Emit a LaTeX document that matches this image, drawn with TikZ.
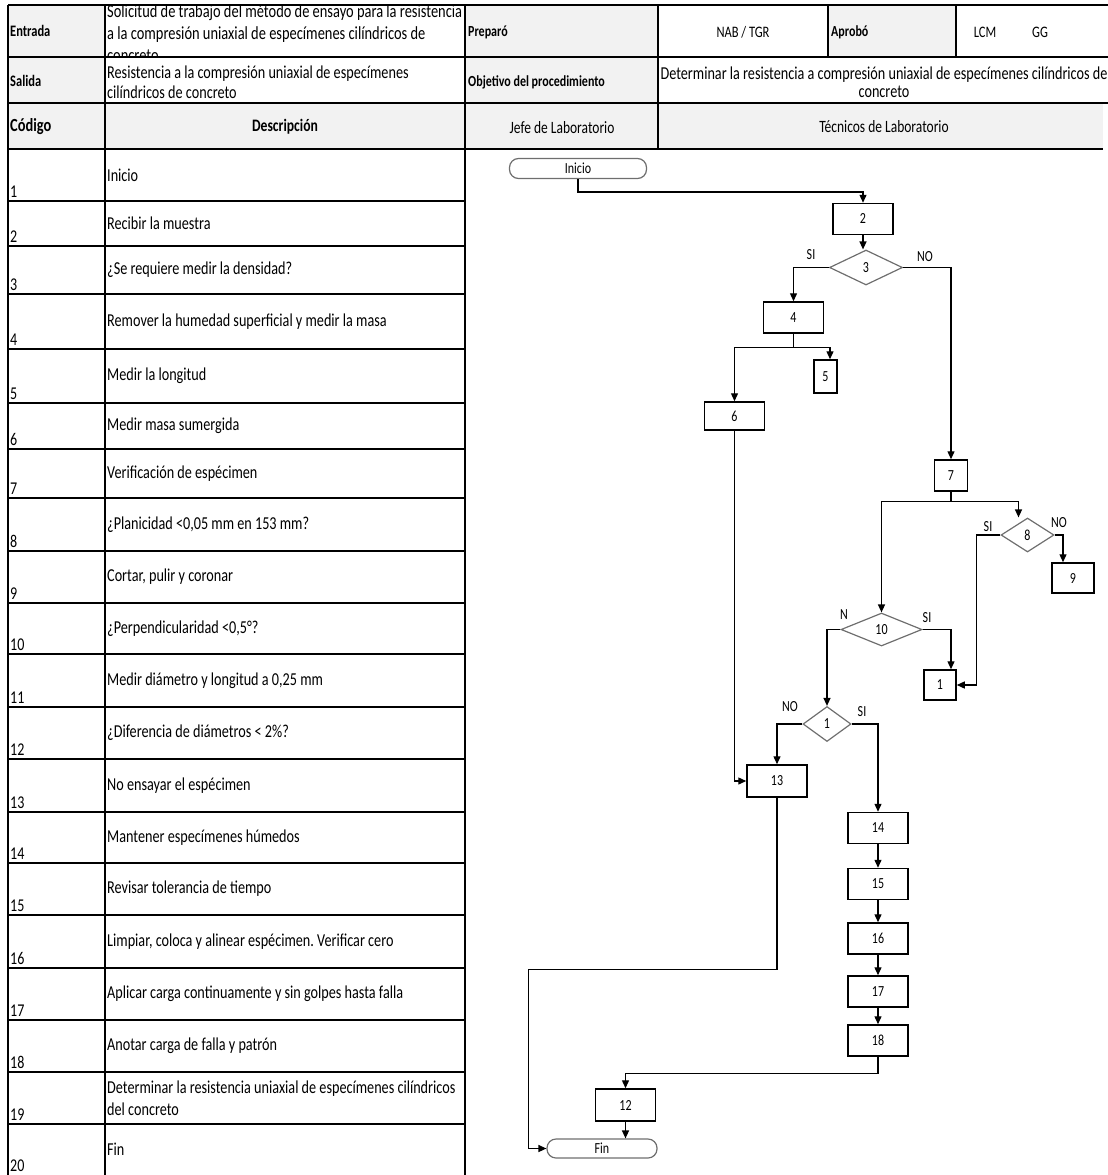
\documentclass[tikz,border=0pt]{standalone}
\usepackage{fontspec}
\setmainfont{Carlito}[FakeStretch=0.78]
\usetikzlibrary{arrows.meta, shapes.geometric}

\definecolor{grisceld}{HTML}{F2F2F2}
\definecolor{grislinea}{HTML}{6E6E6E}

\begin{document}
\frenchspacing
\begin{tikzpicture}[x=1pt, y=-1pt,
    caja/.style={draw, line width=1.5pt, minimum width=60pt, minimum height=31pt, inner sep=1pt, font=\fontsize{15.4}{17}\selectfont},
    rombo/.style={diamond, draw=grislinea, line width=1.2pt, inner sep=0pt, font=\fontsize{15.4}{17}\selectfont},
    terminal/.style={draw=grislinea, line width=1.2pt, rounded corners=9pt, minimum height=20pt, inner sep=0pt, font=\fontsize{15.4}{17}\selectfont},
    etiqueta/.style={inner sep=0pt, font=\fontsize{15.4}{17}\selectfont},
    flecha/.style={-{Triangle[length=8pt, width=7pt]}, line width=1.3pt},
    tabla/.style={line width=2pt},
    desc/.style={inner sep=0pt, align=left, font=\fontsize{18.2}{22}\selectfont},
    titulo/.style={inner sep=0pt, font=\bfseries\fontsize{16}{18}\selectfont},
    codigo/.style={inner sep=0pt, font=\fontsize{18}{20}\selectfont}]
    \useasboundingbox (0,0) rectangle (1108,1175);

    % celdas grises del encabezado
    \fill[grisceld] (8,5) rectangle (105,149);
    \fill[grisceld] (105,103) rectangle (465,149);
    \fill[grisceld] (465,5) rectangle (658,149);
    \fill[grisceld] (828,5) rectangle (956,57);
    \fill[grisceld] (658,103) rectangle (1103,149);

    % lineas del encabezado
    \draw[tabla] (8,5) -- (1108,5);
    \draw[tabla] (8,57) -- (1108,57);
    \draw[tabla] (8,103) -- (1108,103);
    \draw[tabla] (8,149) -- (1103,149);
    \foreach \x in {8,105,465}
        \draw[tabla] (\x,5) -- (\x,1175);
    \draw[tabla] (658,5) -- (658,149);
    \foreach \x in {828,956}
        \draw[tabla] (\x,5) -- (\x,57);

    % textos del encabezado
    \node[titulo, anchor=west] (ent) at (10,31) {Entrada};
    \node[titulo, anchor=west] (sal) at (10,81) {Salida};
    \node[titulo, anchor=west, font=\bfseries\fontsize{18.5}{20}\selectfont] (cod) at (10,127) {Código};
    \node[titulo, font=\bfseries\fontsize{17.5}{20}\selectfont] (des) at (285,127) {Descripción};
    \begin{scope}
        \clip (105,5) rectangle (465,57);
        \node[desc, anchor=north west, font=\fontsize{18.5}{22}\selectfont] (sol) at (107,4) {Solicitud de trabajo del método de ensayo para la resistencia\\a la compresión uniaxial de especímenes cilíndricos de\\concreto};
    \end{scope}
    \node[desc, anchor=west, font=\fontsize{18.2}{20}\selectfont] (res) at (107,82) {Resistencia a la compresión uniaxial de especímenes\\cilíndricos de concreto};
    \node[titulo, anchor=west, font=\bfseries\fontsize{15.4}{17}\selectfont] (prep) at (468,32) {Preparó};
    \node[codigo, font=\fontsize{16}{18}\selectfont] (nab) at (743,32) {NAB / TGR};
    \node[titulo, anchor=west, font=\bfseries\fontsize{15.4}{17}\selectfont] (aprob) at (831,32) {Aprobó};
    \node[codigo, font=\fontsize{16}{18}\selectfont] (lcm) at (985,32) {LCM};
    \node[codigo, font=\fontsize{16}{18}\selectfont] (gg) at (1040,32) {GG};
    \node[titulo, anchor=west, font=\bfseries\fontsize{15.4}{17}\selectfont] (obj) at (468,82) {Objetivo del procedimiento};
    \node[desc, align=center, font=\fontsize{18.2}{18}\selectfont] (det) at (884,82) {Determinar la resistencia a compresión uniaxial de especímenes cilíndricos de\\concreto};
    \node[codigo, font=\fontsize{17.3}{20}\selectfont] (jefe) at (562,128) {Jefe de Laboratorio};
    \node[codigo, font=\fontsize{17.3}{20}\selectfont] (tec) at (884,127) {Técnicos de Laboratorio};

    % filas de codigo y descripcion
    \foreach \n/\ya/\yb/\txt in {1/149/201/Inicio, 2/201/246/Recibir la muestra, 3/246/294/¿Se requiere medir la densidad?,
        4/294/349/Remover la humedad superficial y medir la masa, 5/349/403/Medir la longitud, 6/403/449/Medir masa sumergida,
        7/449/498/Verificación de espécimen, 8/498/551/{¿Planicidad <0,05 mm en 153 mm?}, 9/551/603/{Cortar, pulir y coronar},
        10/603/654/{¿Perpendicularidad <0,5°?}, 11/654/707/{Medir diámetro y longitud a 0,25 mm}, 12/707/759/¿Diferencia de diámetros < 2\%?,
        13/759/812/No ensayar el espécimen, 14/812/863/Mantener especímenes húmedos, 15/863/915/Revisar tolerancia de tiempo,
        16/915/968/{Limpiar, coloca y alinear espécimen. Verificar cero}, 17/968/1020/Aplicar carga continuamente y sin golpes hasta falla,
        18/1020/1072/Anotar carga de falla y patrón, 19/1072/1124/Determinar la resistencia uniaxial de especímenes cilíndricos\\del concreto,
        20/1124/1175/Fin} {
        \node[codigo, anchor=base west] (c\n) at (10,\yb-4) {\n};
        \node[desc, anchor=west] (t\n) at (107,{(\ya+\yb)/2}) {\txt};
        \draw[tabla] (8,\ya) -- (465,\ya);
    }

    % diagrama de flujo
    \node[terminal, minimum width=137pt] (inicio) at (578,168.5) {Inicio};
    \node[caja] (p2) at (863,219) {2};
    \node[rombo, minimum width=73pt, minimum height=35pt] (d3) at (866,267.5) {3};
    \node[caja] (p4) at (793.5,317.5) {4};
    \node[caja, minimum width=23pt, minimum height=33pt] (p5) at (825.5,376.5) {5};
    \node[caja, minimum height=28pt] (p6) at (734.5,416) {6};
    \node[caja, minimum width=33pt] (p7) at (951,475.5) {7};
    \node[rombo, minimum width=53pt, minimum height=34pt] (d8) at (1027.5,535) {8};
    \node[caja, minimum width=42pt, minimum height=30pt] (p9) at (1073,578) {9};
    \node[rombo, minimum width=81pt, minimum height=33pt] (d10) at (881.5,629.5) {10};
    \node[caja, minimum width=32pt, minimum height=30pt] (p11) at (940,685) {1};
    \node[rombo, minimum width=48pt, minimum height=35pt] (d12) at (827,724) {1};
    \node[caja, minimum height=32pt] (p13) at (777,781) {13};
    \foreach \n/\y in {14/828,15/884,16/938.5,17/991.5,18/1040.5}
        \node[caja] (p\n) at (878,\y) {\n};
    \node[caja, minimum height=32pt] (p19) at (625.5,1105) {12};
    \node[terminal, minimum width=110pt, minimum height=19pt] (fin) at (602,1148.5) {Fin};

    % etiquetas SI / NO
    \node[etiqueta] (si3) at (811,255) {SI};
    \node[etiqueta] (no3) at (925,257) {NO};
    \node[etiqueta] (si8) at (988,527) {SI};
    \node[etiqueta] (no8) at (1059,523) {NO};
    \node[etiqueta] (no10) at (844,615) {N};
    \node[etiqueta] (si10) at (927,618) {SI};
    \node[etiqueta] (no12) at (790,707) {NO};
    \node[etiqueta] (si12) at (862,712) {SI};

    % conexiones
    \draw[flecha] (inicio.south) -- ++(0,13) -| (p2.north);
    \draw[flecha] (p2.south) -- (p2.south |- d3.north);
    \draw[flecha] (d3.west) -| (p4.north);
    \draw[flecha] (d3.east) -| (p7.north);
    \draw[flecha] (p4.south) -- ++(0,14) -| (p6.north);
    \draw[flecha] (p4.south) ++(0,14) -| ([xshift=4.5pt]p5.north);
    \draw[flecha] (p6.south) |- (p13.west);
    \draw[flecha] (p7.south) -- ++(0,10) -| (d10.north);
    \draw[flecha] (p7.south) ++(0,10) -| ([xshift=-9pt]d8.north);
    \draw[flecha] (d8.east) -| ([xshift=-10pt]p9.north);
    \draw[flecha] (d8.west) -- ++(-24,0) |- (p11.east);
    \draw[flecha] (d10.east) -| ([xshift=11pt]p11.north);
    \draw[flecha] (d10.west) -| (d12.north);
    \draw[flecha] (d12.west) -| (p13.north);
    \draw[flecha] (d12.east) -| (p14.north);
    \foreach \a/\b in {14/15,15/16,16/17,17/18}
        \draw[flecha] (p\a) -- (p\b);
    \draw[flecha] (p18.south) -- ++(0,17) -| (p19.north);
    \draw[flecha] (p19.south) -- (p19.south |- fin.north);
    \draw[flecha] (p13.south) -- ++(0,172) -| ([xshift=-18pt]fin.west) -- (fin.west);
\end{tikzpicture}
\end{document}
